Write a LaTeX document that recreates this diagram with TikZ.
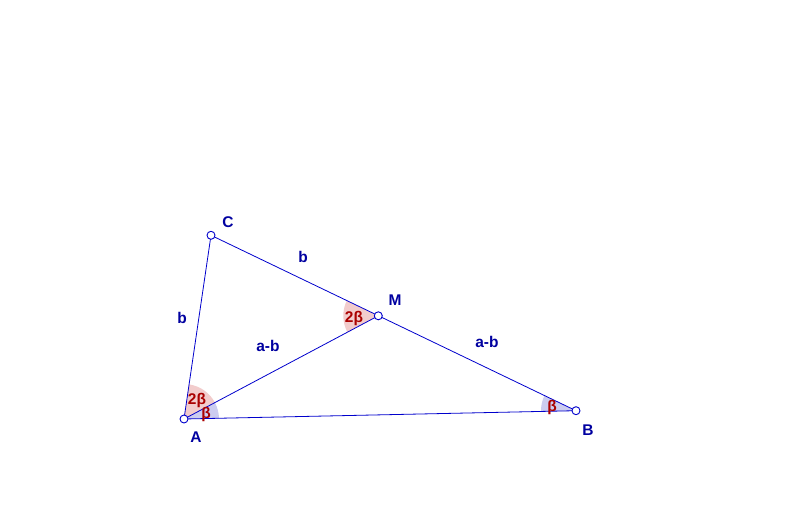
\documentclass[tikz,border=0pt]{standalone}
\usepackage{fontspec}
\setmainfont{Liberation Sans}
\usetikzlibrary{angles}
\definecolor{segblue}{RGB}{0,0,204}
\definecolor{lblblue}{RGB}{0,0,160}
\definecolor{anglered}{RGB}{170,0,0}
\definecolor{redfill}{RGB}{242,204,204}
\definecolor{bluefill}{RGB}{204,204,240}

\begin{document}
\begin{tikzpicture}[x=1pt, y=1pt, font=\fontsize{15.5}{18}\selectfont\bfseries,
	seg/.style={draw=segblue, line width=0.8pt},
	pnt/.style={circle, draw=segblue, fill=white, line width=0.9pt, inner sep=0pt, minimum size=8pt},
	lbl/.style={text=lblblue, inner sep=0pt},
	anglbl/.style={text=anglered, inner sep=0pt}]
	\useasboundingbox (0,0) rectangle (790,523);
	% points of the triangle
	\coordinate (A) at (184,104);
	\coordinate (B) at (576,112.3);
	\coordinate (C) at (211,287.7);
	\coordinate (M) at (378.3,207.2);
	% angle sectors
	\pic [fill=bluefill, angle radius=35pt] {angle = B--A--M};
	\pic [fill=redfill, angle radius=35pt] {angle = M--A--C};
	\pic [fill=redfill, angle radius=35pt] {angle = C--M--A};
	\pic [fill=bluefill, angle radius=35pt] {angle = M--B--A};
	% segments
	\draw [seg] (A) -- (C) -- (B) -- cycle;
	\draw [seg] (A) -- (M);
	% point markers
	\node [pnt] (ptA) at (A) {};
	\node [pnt] (ptB) at (B) {};
	\node [pnt] (ptC) at (C) {};
	\node [pnt] (ptM) at (M) {};
	% labels
	\node [lbl] (labA) at (196,86) {A};
	\node [lbl] (labB) at (588,93) {B};
	\node [lbl] (labC) at (228,301) {C};
	\node [lbl] (labM) at (395,223) {M};
	\node [lbl] (labCM) at (303,266) {b};
	\node [lbl] (labAC) at (182,205) {b};
	\node [lbl] (labAM) at (268,177) {a-b};
	\node [lbl] (labMB) at (487,181) {a-b};
	\node [anglbl] (angA2) at (197,123) {2β};
	\node [anglbl] (angA1) at (206,109) {β};
	\node [anglbl] (angM) at (354,205) {2β};
	\node [anglbl] (angB) at (552,116) {β};
\end{tikzpicture}
\end{document}
